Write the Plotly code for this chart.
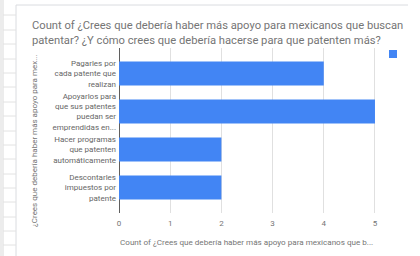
import plotly.graph_objects as go

categories = [
    "Pagarles por<br>cada patente que<br>realizan",
    "Apoyarlos para<br>que sus patentes<br>puedan ser<br>emprendidas en...",
    "Hacer programas<br>que patenten<br>automáticamente",
    "Descontarles<br>impuestos por<br>patente",
]
counts = [4, 5, 2, 2]
x_ticks = [0, 1, 2, 3, 4, 5]

title_text = ("Count of ¿Crees que debería haber más apoyo para mexicanos que buscan<br>"
              "patentar? ¿Y cómo crees que debería hacerse para que patenten más?")
x_title = "Count of ¿Crees que debería haber más apoyo para mexicanos que b..."
y_title = "¿Crees que debería haber más apoyo para mex..."

W, H = 420, 256
L, R, T, B = 119, 376, 48, 213  # plot area in px


def px_x(px):
    return (px - L) / (R - L)


def px_y(py):
    return (B - py) / (B - T)


BLUE = "#4285f4"
GRAY = "#757575"
FONT = "Roboto, Arial, sans-serif"

fig = go.Figure()
fig.add_trace(go.Bar(
    x=counts, y=categories, orientation="h",
    marker=dict(color=BLUE, line=dict(width=0)),
    width=0.63, showlegend=False, hoverinfo="x+y",
))

fig.update_layout(
    width=W, height=H,
    margin=dict(l=L, r=W - R, t=T, b=H - B, pad=0, autoexpand=False),
    paper_bgcolor="white", plot_bgcolor="white",
    font=dict(family=FONT, color=GRAY),
    xaxis=dict(
        range=[0, 5.02], tickvals=x_ticks, ticktext=[str(v) for v in x_ticks],
        showgrid=True, gridcolor="#e0e0e0", gridwidth=1,
        zeroline=True, zerolinecolor="#5f5f5f", zerolinewidth=1,
        showline=False, ticks="", tickfont=dict(size=8, color=GRAY),
        ticklabelstandoff=4, fixedrange=True, automargin=False,
    ),
    yaxis=dict(
        type="category", categoryorder="array", categoryarray=categories,
        range=[3.672, -0.671], showgrid=False, zeroline=False, showline=False,
        ticks="", tickfont=dict(size=8, color="#666666"),
        ticklabelstandoff=2, fixedrange=True, automargin=False,
    ),
    showlegend=False,
)

annotations = [
    dict(text=title_text, xref="paper", yref="paper", x=px_x(30), y=px_y(17),
         xanchor="left", yanchor="top", align="left", showarrow=False,
         font=dict(size=11.2, color=GRAY, family=FONT)),
    dict(text=x_title, xref="paper", yref="paper", x=px_x(246), y=px_y(242),
         xanchor="center", yanchor="middle", showarrow=False,
         font=dict(size=8.1, color=GRAY, family=FONT)),
    dict(text=y_title, xref="paper", yref="paper", x=px_x(34), y=px_y(141),
         xanchor="center", yanchor="middle", textangle=-90, showarrow=False,
         font=dict(size=8, color=GRAY, family=FONT)),
]
fig.update_layout(annotations=annotations)

shapes = []
BORDER = "#dadce0"
# card border (left and top)
shapes.append(dict(type="line", xref="paper", yref="paper",
                   x0=px_x(16), x1=px_x(16), y0=px_y(5), y1=px_y(256),
                   line=dict(color=BORDER, width=1)))
shapes.append(dict(type="line", xref="paper", yref="paper",
                   x0=px_x(16), x1=px_x(408), y0=px_y(5), y1=px_y(5),
                   line=dict(color=BORDER, width=1)))
# spreadsheet background strip at left
for vx in [1, 3]:
    shapes.append(dict(type="line", xref="paper", yref="paper",
                       x0=px_x(vx), x1=px_x(vx), y0=px_y(0), y1=px_y(256),
                       line=dict(color="#d9d9d9", width=1)))
row_lines = [15, 30, 44, 59, 73, 87, 102, 116, 131, 145, 159, 174, 188, 202, 217, 231, 245]
for ry in row_lines:
    shapes.append(dict(type="line", xref="paper", yref="paper",
                       x0=px_x(3), x1=px_x(16), y0=px_y(ry), y1=px_y(ry),
                       line=dict(color="#e2e2e2", width=1)))
# legend swatch
shapes.append(dict(type="rect", xref="paper", yref="paper",
                   x0=px_x(389), x1=px_x(397), y0=px_y(50), y1=px_y(58),
                   fillcolor=BLUE, line=dict(width=0)))
fig.update_layout(shapes=shapes)

fig.write_html(
    "out.html",
    config={"displayModeBar": False},
    post_script="document.body.style.margin='0';document.body.style.overflow='hidden';",
)
